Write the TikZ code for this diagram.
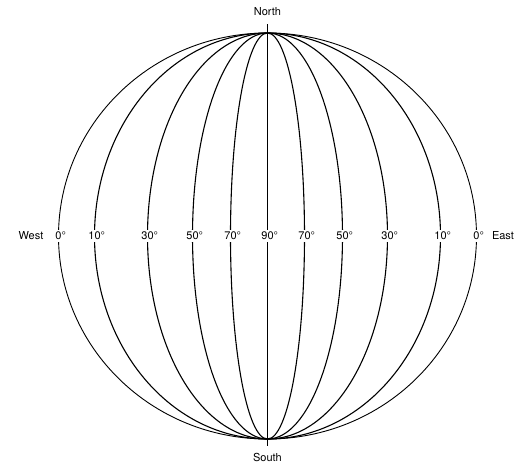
\documentclass[tikz,border=0pt]{standalone}
\usepackage{fontspec}
\setmainfont{TeX Gyre Heros}
\begin{document}
\begin{tikzpicture}[x=1pt,y=-1pt,
  meridian/.style={line width=1.1pt},
  deg/.style={fill=white,inner xsep=1pt,inner ysep=2.5pt,font=\fontsize{11}{13}\selectfont},
  pole/.style={font=\fontsize{11}{13}\selectfont}]
\useasboundingbox (0,0) rectangle (515,466);
\coordinate (C) at (267.5,236);
\coordinate (N) at (267.5,33);
\coordinate (S) at (267.5,439);
\coordinate (Nt) at (267.5,24);
\coordinate (St) at (267.5,446);
% meridians (each ellipse gives a west and an east meridian)
\draw[line width=0.9pt] (C) ellipse [x radius=209, y radius=203];
\foreach \a in {173,120,75,37}{
  \draw[meridian] (C) ellipse [x radius=\a, y radius=203];
}
\draw[meridian] (N) -- (S);
\draw[line width=0.8pt] (Nt) -- (N);
\draw[line width=0.8pt] (S) -- (St);
% labels
\node[deg] (w0)  at (267.5-209,236) {0\rlap{°}};
\node[deg] (w10) at (267.5-173,236) {10\rlap{°}};
\node[deg] (w30) at (267.5-120,236) {30\rlap{°}};
\node[deg] (w50) at (267.5-75,236)  {50\rlap{°}};
\node[deg] (w70) at (267.5-37,236)  {70\rlap{°}};
\node[deg] (c90) at (267.5,236)     {90\rlap{°}};
\node[deg] (e70) at (267.5+37,236)  {70\rlap{°}};
\node[deg] (e50) at (267.5+75,236)  {50\rlap{°}};
\node[deg] (e30) at (267.5+120,236) {30\rlap{°}};
\node[deg] (e10) at (267.5+173,236) {10\rlap{°}};
\node[deg] (e0)  at (267.5+209,236) {0\rlap{°}};
\node[pole] (west)  at (31,236)  {West};
\node[pole] (east)  at (503,236) {East};
\node[pole] (north) at (267.5,12) {North};
\node[pole] (south) at (267.5,457) {South};
\end{tikzpicture}
\end{document}
